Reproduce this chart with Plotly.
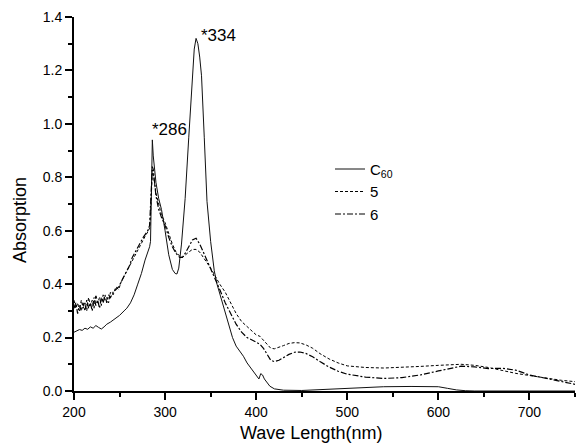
import plotly.graph_objects as go

# ---- data ----
c60_x = [200, 203, 206, 209, 212, 215, 218, 221, 224, 227, 230, 233, 236, 240, 245, 250, 255, 258, 262, 266,
         270, 274, 278, 281, 283, 284, 285, 286, 287, 288, 290, 293, 296, 300, 304, 308, 311, 313, 315, 318,
         322, 326, 330, 332, 334, 336, 338, 340, 343, 346, 350, 354, 357, 362, 366, 370, 374, 378, 382, 386,
         390, 394, 398, 401, 403, 405, 407, 409, 412, 415, 420, 430, 450, 480, 510, 540, 570, 600, 610, 620,
         630, 640, 700, 750]
c60_y = [0.220, 0.225, 0.230, 0.227, 0.235, 0.231, 0.240, 0.235, 0.245, 0.238, 0.232, 0.240, 0.250, 0.258, 0.270, 0.283, 0.300, 0.310, 0.330, 0.360,
         0.400, 0.440, 0.490, 0.520, 0.540, 0.560, 0.720, 0.940, 0.880, 0.840, 0.780, 0.720, 0.680, 0.600, 0.510, 0.455, 0.440, 0.438, 0.460, 0.550,
         0.720, 0.950, 1.180, 1.280, 1.320, 1.300, 1.250, 1.180, 0.950, 0.710, 0.560, 0.450, 0.400, 0.340, 0.290, 0.240, 0.200, 0.168, 0.150, 0.130,
         0.105, 0.085, 0.065, 0.050, 0.045, 0.065, 0.060, 0.045, 0.030, 0.018, 0.008, 0.003, 0.002, 0.006, 0.012, 0.016, 0.017, 0.016, 0.010, 0.004,
         0.001, 0.000, 0.000, 0.000]

s_x = [200, 202, 204, 206, 208, 210, 212, 214, 216, 218, 220, 222, 224, 226, 228, 230, 232, 234, 236, 238,
       240, 243, 246, 249, 252, 255, 258, 261, 264, 267, 270, 273, 276, 279, 281, 283, 284, 285, 286, 287,
       288, 290, 293, 296, 300, 304, 308, 312, 316, 319, 322, 326, 330, 334, 338, 342, 346, 350, 355, 360,
       366, 372, 378, 384, 390, 396, 400, 404, 408, 412, 416, 420, 425, 430, 436, 442, 448, 455, 462, 470,
       480, 490, 500, 520, 540, 560, 580, 600, 615, 625, 640, 655, 670, 685, 700, 720, 735, 750]
s5_y = [0.340, 0.310, 0.330, 0.300, 0.340, 0.310, 0.330, 0.300, 0.350, 0.320, 0.340, 0.310, 0.360, 0.330, 0.350, 0.320, 0.360, 0.340, 0.350, 0.330,
        0.370, 0.360, 0.390, 0.380, 0.410, 0.430, 0.450, 0.470, 0.490, 0.510, 0.530, 0.550, 0.570, 0.585, 0.595, 0.610, 0.660, 0.740, 0.820, 0.810,
        0.780, 0.740, 0.700, 0.660, 0.630, 0.590, 0.550, 0.520, 0.505, 0.500, 0.510, 0.520, 0.530, 0.530, 0.520, 0.500, 0.480, 0.460, 0.430, 0.400,
        0.370, 0.330, 0.290, 0.260, 0.240, 0.220, 0.210, 0.205, 0.190, 0.175, 0.160, 0.158, 0.163, 0.170, 0.178, 0.181, 0.180, 0.172, 0.160, 0.140,
        0.120, 0.105, 0.094, 0.088, 0.086, 0.088, 0.092, 0.096, 0.100, 0.100, 0.096, 0.088, 0.077, 0.066, 0.058, 0.047, 0.040, 0.035]
s6_y = [0.310, 0.330, 0.290, 0.320, 0.300, 0.330, 0.300, 0.340, 0.310, 0.330, 0.300, 0.350, 0.320, 0.340, 0.310, 0.350, 0.330, 0.360, 0.330, 0.360,
        0.350, 0.370, 0.380, 0.390, 0.410, 0.430, 0.450, 0.470, 0.500, 0.520, 0.540, 0.560, 0.575, 0.590, 0.600, 0.620, 0.680, 0.760, 0.840, 0.830,
        0.790, 0.730, 0.680, 0.650, 0.620, 0.575, 0.540, 0.515, 0.500, 0.500, 0.515, 0.540, 0.565, 0.572, 0.550, 0.520, 0.490, 0.460, 0.420, 0.380,
        0.330, 0.290, 0.250, 0.220, 0.200, 0.190, 0.183, 0.175, 0.160, 0.135, 0.115, 0.110, 0.115, 0.125, 0.137, 0.145, 0.146, 0.140, 0.128, 0.110,
        0.090, 0.074, 0.063, 0.052, 0.047, 0.050, 0.060, 0.075, 0.087, 0.093, 0.090, 0.084, 0.085, 0.078, 0.060, 0.045, 0.035, 0.025]

names = ["C<sub>60</sub>", "5", "6"]
peak_labels = ["*286", "*334"]
peak_x = [286, 334]
peak_y = [0.946, 1.321]

x_title = "Wave Length(nm)"
y_title = "Absorption"

FONT = "Liberation Sans, Arial, sans-serif"

fig = go.Figure()
fig.add_trace(go.Scatter(x=c60_x, y=c60_y, mode="lines", name=names[0],
                         line=dict(color="#111111", width=1)))
fig.add_trace(go.Scatter(x=s_x, y=s5_y, mode="lines", name=names[1],
                         line=dict(color="#000000", width=1, dash="3px,2px")))
fig.add_trace(go.Scatter(x=s_x, y=s6_y, mode="lines", name=names[2],
                         line=dict(color="#000000", width=1.2, dash="6px,2px,2px,2px")))

# peak annotations
fig.add_annotation(x=peak_x[0], y=peak_y[0], text=peak_labels[0], showarrow=False,
                   xanchor="left", yanchor="middle", xshift=-2, yshift=9,
                   font=dict(size=17, color="black", family=FONT))
fig.add_annotation(x=peak_x[1], y=peak_y[1], text=peak_labels[1], showarrow=False,
                   xanchor="left", yanchor="middle", xshift=3, yshift=3,
                   font=dict(size=17, color="black", family=FONT))

# axis titles (placed as in the reference)
fig.add_annotation(xref="paper", yref="paper", x=0.473, y=-0.112, text=x_title,
                   showarrow=False, xanchor="center", yanchor="middle",
                   font=dict(size=18, color="black", family=FONT))
fig.add_annotation(xref="paper", yref="paper", x=-0.108, y=0.457, text=y_title,
                   showarrow=False, xanchor="center", yanchor="middle", textangle=-90,
                   font=dict(size=18, color="black", family=FONT))

fig.update_layout(
    width=577, height=443,
    margin=dict(l=74, r=2, t=17, b=52, autoexpand=False),
    paper_bgcolor="white", plot_bgcolor="white",
    font=dict(family=FONT, color="black", size=14),
    showlegend=True,
    legend=dict(x=0.511, y=0.637, xanchor="left", yanchor="top",
                bgcolor="rgba(0,0,0,0)", font=dict(size=15, family=FONT),
                tracegroupgap=0, itemwidth=30),
)
fig.update_xaxes(
    range=[200, 750], tickmode="linear", tick0=200, dtick=100,
    showgrid=False, zeroline=False,
    showline=True, linecolor="black", linewidth=2,
    ticks="outside", ticklen=7, tickwidth=1.5, tickcolor="black",
    minor=dict(ticks="outside", ticklen=4, tickwidth=1.5, tickcolor="black",
               tickmode="linear", tick0=250, dtick=100, showgrid=False),
    tickfont=dict(size=14),
)
fig.update_yaxes(
    range=[0, 1.4], tickmode="linear", tick0=0, dtick=0.2, tickformat=".1f",
    showgrid=False, zeroline=False,
    showline=True, linecolor="black", linewidth=2,
    ticks="outside", ticklen=7, tickwidth=1.5, tickcolor="black",
    minor=dict(ticks="outside", ticklen=4, tickwidth=1.5, tickcolor="black",
               tickmode="linear", tick0=0.1, dtick=0.2, showgrid=False),
    tickfont=dict(size=14),
)

fig.write_html(
    "out.html",
    config={"responsive": False, "displayModeBar": False},
    post_script="document.body.style.margin='0';document.body.style.overflow='hidden';",
)
